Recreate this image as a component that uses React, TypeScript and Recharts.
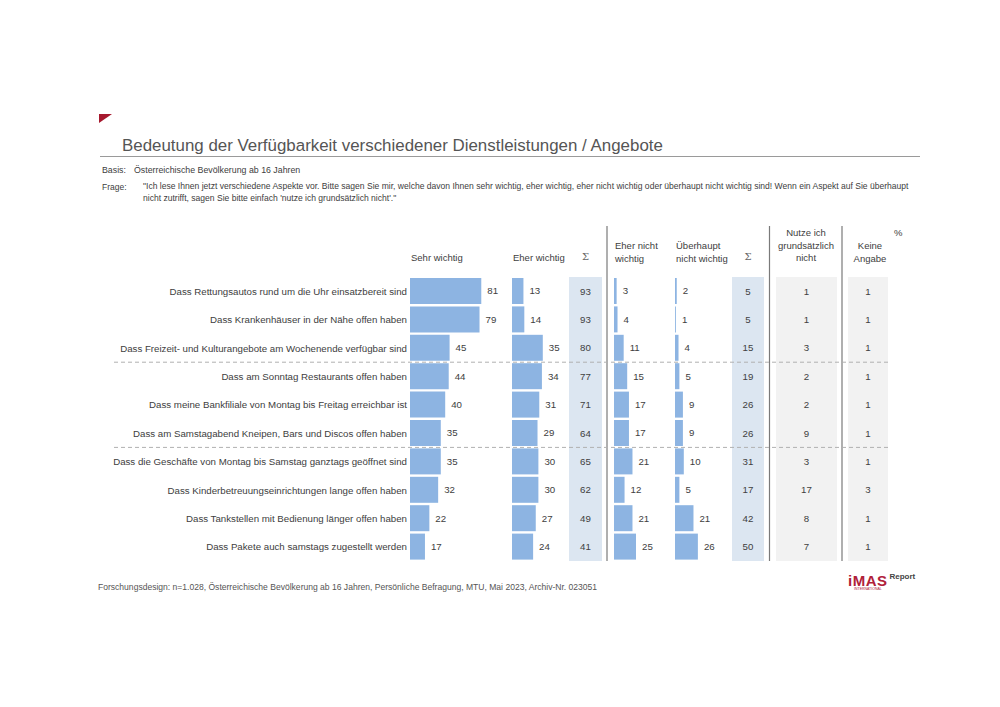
import React from 'react'
import { BarChart, Bar, XAxis, YAxis, LabelList } from 'recharts'

const labels = [
  'Dass Rettungsautos rund um die Uhr einsatzbereit sind',
  'Dass Krankenhäuser in der Nähe offen haben',
  'Dass Freizeit- und Kulturangebote am Wochenende verfügbar sind',
  'Dass am Sonntag Restaurants offen haben',
  'Dass meine Bankfiliale von Montag bis Freitag erreichbar ist',
  'Dass am Samstagabend Kneipen, Bars und Discos offen haben',
  'Dass die Geschäfte von Montag bis Samstag ganztags geöffnet sind',
  'Dass Kinderbetreuungseinrichtungen lange offen haben',
  'Dass Tankstellen mit Bedienung länger offen haben',
  'Dass Pakete auch samstags zugestellt werden',
]
const sehrWichtig = [81, 79, 45, 44, 40, 35, 35, 32, 22, 17]
const eherWichtig = [13, 14, 35, 34, 31, 29, 30, 30, 27, 24]
const sumWichtig = [93, 93, 80, 77, 71, 64, 65, 62, 49, 41]
const eherNicht = [3, 4, 11, 15, 17, 17, 21, 12, 21, 25]
const ueberhauptNicht = [2, 1, 4, 5, 9, 9, 10, 5, 21, 26]
const sumNicht = [5, 5, 15, 19, 26, 26, 31, 17, 42, 50]
const nutzeNicht = [1, 1, 3, 2, 2, 9, 3, 17, 8, 7]
const keineAngabe = [1, 1, 1, 1, 1, 1, 1, 3, 1, 1]

const rows = labels.map((label, i) => ({
  label,
  sehr: sehrWichtig[i],
  eher: eherWichtig[i],
  sum1: sumWichtig[i],
  eherNicht: eherNicht[i],
  gar: ueberhauptNicht[i],
  sum2: sumNicht[i],
  nutze: nutzeNicht[i],
  keine: keineAngabe[i],
}))

const FONT = '"Liberation Sans", Arial, sans-serif'
const TEXT = '#404040'
const BAR = '#8DB4E2'
const SUM_BG = '#DCE6F1'
const GRAY_BG = '#F2F2F2'
const TOP = 277
const CHART_H = 284
const COL_W = 88 // 100 % -> 88 px
const RIGHT_PAD = 26

function RowLabel(props: any) {
  const { x, y, payload } = props
  return (
    <text x={x} y={y} textAnchor="end" dominantBaseline="central" fill={TEXT} fontSize={9.7} fontFamily={FONT}>
      {payload.value}
    </text>
  )
}

function BarColumn({ left, dataKey, withLabels }: { left: number; dataKey: string; withLabels?: boolean }) {
  const yw = withLabels ? 410 : 0
  return (
    <div style={{ position: 'absolute', left: withLabels ? 0 : left, top: TOP }}>
      <BarChart
        width={yw + COL_W + RIGHT_PAD}
        height={CHART_H}
        data={rows}
        layout="vertical"
        margin={{ top: 0, right: RIGHT_PAD, bottom: 0, left: 0 }}
        barCategoryGap={1}
      >
        <XAxis type="number" domain={[0, 100]} hide />
        <YAxis
          type="category"
          dataKey="label"
          hide={!withLabels}
          width={yw}
          axisLine={false}
          tickLine={false}
          tickSize={0}
          tickMargin={3}
          interval={0}
          tick={RowLabel}
        />
        <Bar dataKey={dataKey} fill={BAR} isAnimationActive={false}>
          <LabelList dataKey={dataKey} position="right" offset={6} fill={TEXT} fontSize={9.7} fontFamily={FONT} />
        </Bar>
      </BarChart>
    </div>
  )
}

function TextColumn({ left, width, dataKey, bg }: { left: number; width: number; dataKey: string; bg: string }) {
  return (
    <div style={{ position: 'absolute', left, top: TOP, width, height: CHART_H, background: bg }}>
      <BarChart
        width={width}
        height={CHART_H}
        data={rows}
        layout="vertical"
        margin={{ top: 0, right: 0, bottom: 0, left: 0 }}
        barCategoryGap={1}
      >
        <XAxis type="number" domain={[0, 100]} hide />
        <YAxis type="category" dataKey="label" hide />
        <Bar dataKey={dataKey} fill="none" isAnimationActive={false}>
          <LabelList
            dataKey={dataKey}
            content={(p: any) => {
              const vb = p.viewBox || p
              return (
                <text
                  x={width / 2}
                  y={vb.y + vb.height / 2}
                  textAnchor="middle"
                  dominantBaseline="central"
                  fill={TEXT}
                  fontSize={9.7}
                  fontFamily={FONT}
                >
                  {p.value}
                </text>
              )
            }}
          />
        </Bar>
      </BarChart>
    </div>
  )
}

const head: React.CSSProperties = {
  position: 'absolute',
  fontFamily: FONT,
  fontSize: 9.5,
  color: TEXT,
  lineHeight: '12.5px',
  whiteSpace: 'nowrap',
}

export default function App() {
  const rowH = CHART_H / labels.length
  return (
    <div style={{ position: 'absolute', left: 0, top: 0, width: 1000, height: 707, background: '#fff', fontFamily: FONT, overflow: 'hidden' }}>
      {/* header block */}
      <svg style={{ position: 'absolute', left: 0, top: 0 }} width={1000} height={707}>
        <polygon points="99,114 112,114 99,123" fill="#A6192E" />
        <line x1={100} y1={156.5} x2={920} y2={156.5} stroke="#9a9a9a" strokeWidth={1} />
      </svg>
      <div style={{ position: 'absolute', left: 122, top: 136, fontSize: 16.9, color: '#555', whiteSpace: 'nowrap' }}>
        Bedeutung der Verfügbarkeit verschiedener Dienstleistungen / Angebote
      </div>
      <div style={{ position: 'absolute', left: 102, top: 165, fontSize: 8.8, color: TEXT, whiteSpace: 'nowrap' }}>Basis:</div>
      <div style={{ position: 'absolute', left: 134, top: 165, fontSize: 8.8, color: TEXT, whiteSpace: 'nowrap' }}>
        Österreichische Bevölkerung ab 16 Jahren
      </div>
      <div style={{ position: 'absolute', left: 102, top: 182, fontSize: 8.5, color: TEXT, whiteSpace: 'nowrap' }}>Frage:</div>
      <div style={{ position: 'absolute', left: 143, top: 181, fontSize: 8.55, color: TEXT, whiteSpace: 'nowrap', lineHeight: '11.5px' }}>
        "Ich lese Ihnen jetzt verschiedene Aspekte vor. Bitte sagen Sie mir, welche davon Ihnen sehr wichtig, eher wichtig, eher nicht wichtig oder überhaupt nicht wichtig sind! Wenn ein Aspekt auf Sie überhaupt
        <br />
        nicht zutrifft, sagen Sie bitte einfach 'nutze ich grundsätzlich nicht'."
      </div>

      {/* column headers */}
      <div style={{ ...head, left: 411, top: 252 }}>Sehr wichtig</div>
      <div style={{ ...head, left: 513, top: 252 }}>Eher wichtig</div>
      <div style={{ ...head, left: 569, width: 33, textAlign: 'center', top: 251, fontFamily: '"DejaVu Serif", serif', fontSize: 10, color: '#666' }}>Σ</div>
      <div style={{ ...head, left: 615, top: 240 }}>Eher nicht<br />wichtig</div>
      <div style={{ ...head, left: 676, top: 240 }}>Überhaupt<br />nicht wichtig</div>
      <div style={{ ...head, left: 732, width: 32, textAlign: 'center', top: 251, fontFamily: '"DejaVu Serif", serif', fontSize: 10, color: '#666' }}>Σ</div>
      <div style={{ ...head, left: 770, width: 72, textAlign: 'center', top: 227 }}>Nutze ich<br />grundsätzlich<br />nicht</div>
      <div style={{ ...head, left: 845, width: 50, textAlign: 'center', top: 240 }}>Keine<br />Angabe</div>
      <div style={{ ...head, left: 894, top: 227 }}>%</div>

      {/* backgrounds + value columns */}
      <TextColumn left={569} width={33} dataKey="sum1" bg={SUM_BG} />
      <TextColumn left={732} width={32} dataKey="sum2" bg={SUM_BG} />
      <TextColumn left={776} width={61} dataKey="nutze" bg={GRAY_BG} />
      <TextColumn left={848} width={40} dataKey="keine" bg={GRAY_BG} />

      <BarColumn left={0} dataKey="sehr" withLabels />
      <BarColumn left={512} dataKey="eher" />
      <BarColumn left={614} dataKey="eherNicht" />
      <BarColumn left={675} dataKey="gar" />

      {/* separators */}
      <svg style={{ position: 'absolute', left: 0, top: 0, pointerEvents: 'none' }} width={1000} height={707}>
        {[607, 769.5, 842].map((x) => (
          <line key={x} x1={x} y1={226} x2={x} y2={561} stroke="#7a7a7a" strokeWidth={1.2} />
        ))}
        {[3, 6].map((k) => (
          <line key={k} x1={114} y1={TOP + k * rowH} x2={888} y2={TOP + k * rowH} stroke="#b0b0b0" strokeWidth={1} strokeDasharray="4 3" />
        ))}
      </svg>

      {/* footer */}
      <div style={{ position: 'absolute', left: 98, top: 582, fontSize: 8.55, color: '#555', whiteSpace: 'nowrap' }}>
        Forschungsdesign: n=1.028, Österreichische Bevölkerung ab 16 Jahren, Persönliche Befragung, MTU, Mai 2023, Archiv-Nr. 023051
      </div>
      <div style={{ position: 'absolute', left: 848, top: 572, whiteSpace: 'nowrap' }}>
        <span style={{ fontSize: 15, fontWeight: 'bold', color: '#B0213A', letterSpacing: 0.5 }}>iMAS</span>
        <span style={{ fontSize: 8, fontWeight: 'bold', color: '#444', marginLeft: 2, verticalAlign: 'top' }}>Report</span>
        <div style={{ fontSize: 3.5, color: '#B0213A', marginTop: -3, marginLeft: 6 }}>INTERNATIONAL</div>
      </div>
    </div>
  )
}
